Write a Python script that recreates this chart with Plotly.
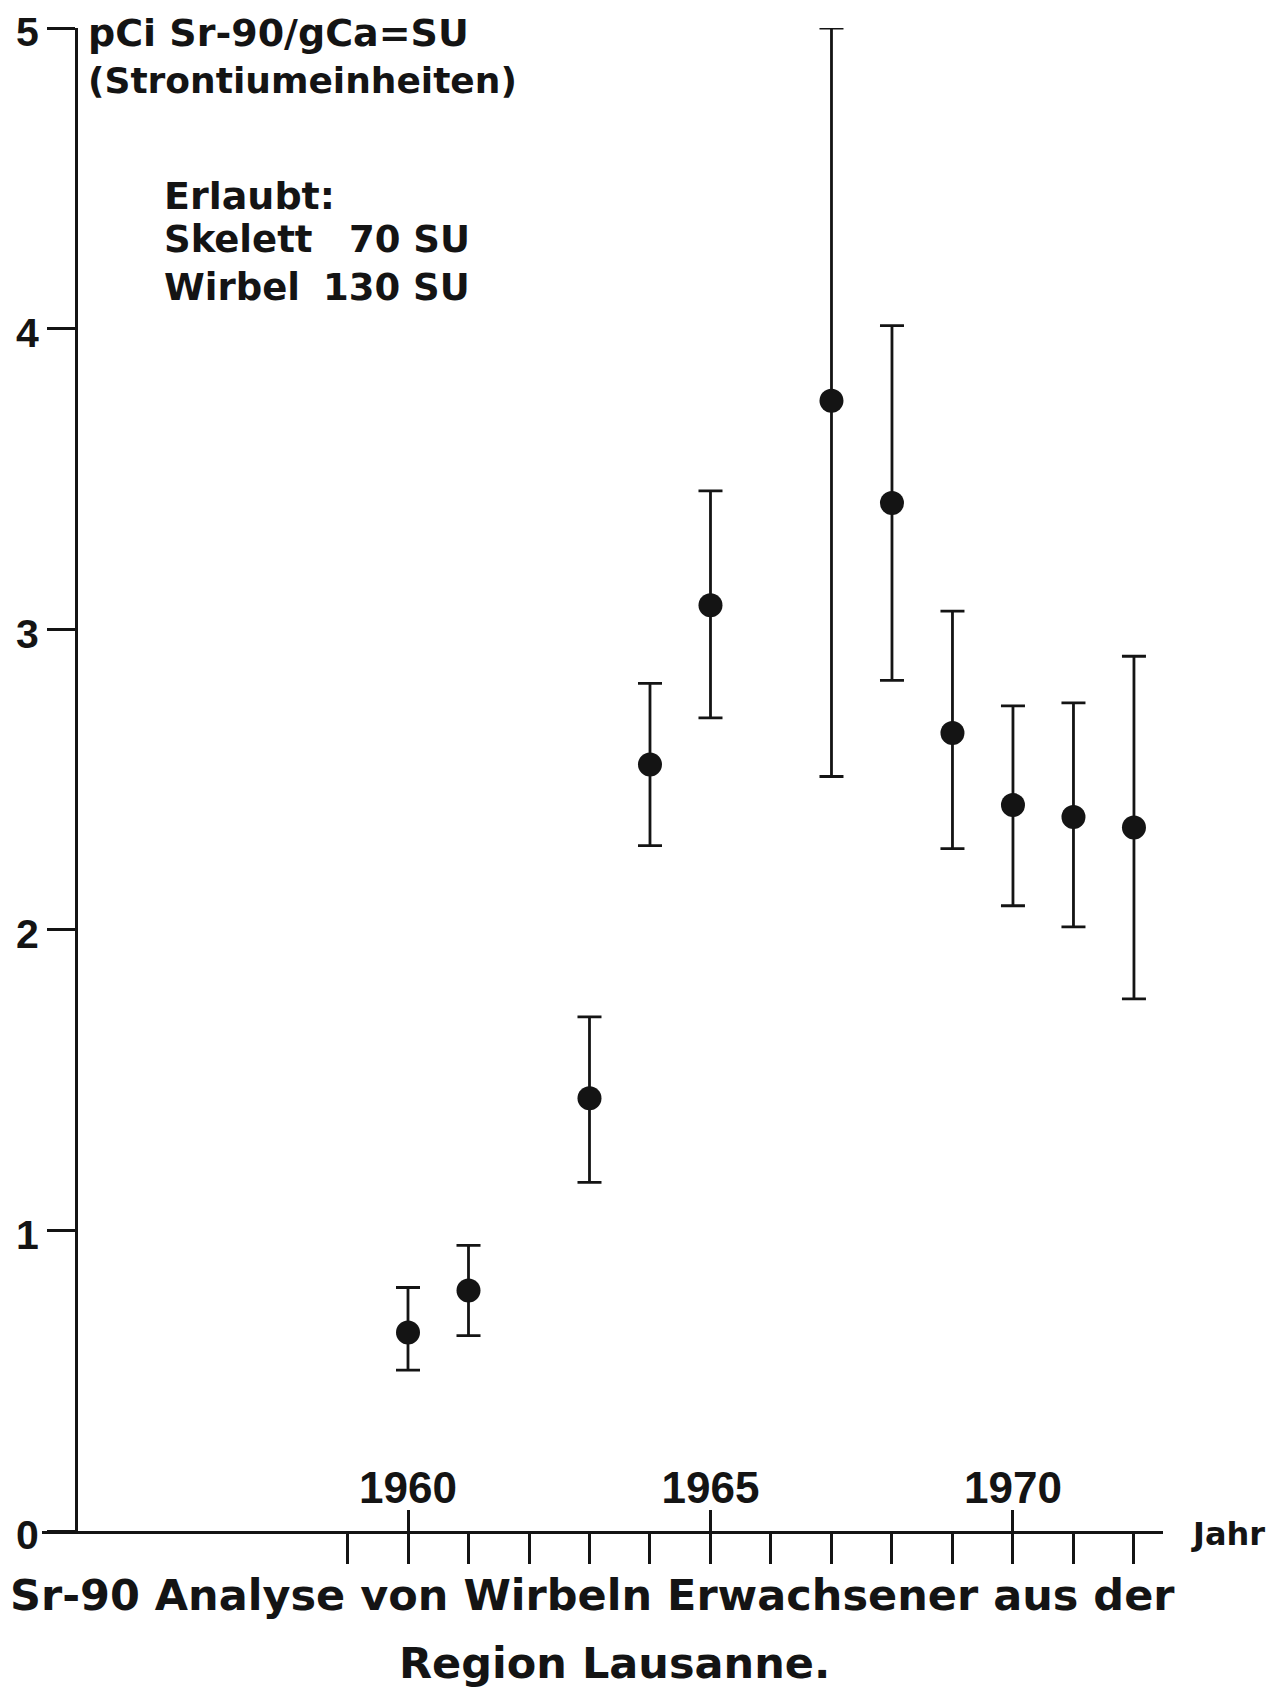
import plotly.graph_objects as go

# ---- data ----
years = [1960, 1961, 1963, 1964, 1965, 1967, 1968, 1969, 1970, 1971, 1972]
sr90_mean = [0.66, 0.80, 1.44, 2.55, 3.08, 3.76, 3.42, 2.655, 2.415, 2.375, 2.34]
sr90_upper = [0.81, 0.95, 1.71, 2.82, 3.46, 5.00, 4.01, 3.06, 2.745, 2.755, 2.91]
sr90_lower = [0.535, 0.65, 1.16, 2.28, 2.705, 2.51, 2.83, 2.27, 2.08, 2.01, 1.77]

x_minor_ticks = list(range(1959, 1973))
x_major_ticks = [1960, 1965, 1970]
x_major_labels = ["1960", "1965", "1970"]
y_ticks = [0, 1, 2, 3, 4, 5]
y_labels = ["0", "1", "2", "3", "4", "5"]

unit_line1 = "pCi Sr-90/gCa=SU"
unit_line2 = "(Strontiumeinheiten)"
allowed_head = "Erlaubt:"
allowed_rows = ["Skelett", "Wirbel"]
allowed_vals = ["70 SU", "130 SU"]
x_title = "Jahr"
title_line1 = "Sr-90 Analyse von Wirbeln Erwachsener aus der"
title_line2 = "Region Lausanne."

INK = "#141414"
XNUM_FONT = dict(family="Liberation Sans", size=44, color=INK, weight="bold")
YNUM_FONT = dict(family="Liberation Sans", size=41, color=INK, weight="bold")
TXT_FONT = dict(family="DejaVu Sans", size=37, color=INK, weight="bold")
TITLE_FONT = dict(family="DejaVu Sans", size=43, color=INK, weight="bold")

# the page body has an 8px margin: work in page pixels, convert to figure pixels
OFF = 8
W, H = 1280 - OFF, 1690 - OFF
PLOT_LEFT, PLOT_RIGHT, PLOT_TOP, PLOT_BOTTOM = 42, 1163, 28, 1531   # page pixels
L = PLOT_LEFT - OFF
T = PLOT_TOP - OFF
R = W - (PLOT_RIGHT - OFF)
B = H - (PLOT_BOTTOM - OFF)
plot_w = PLOT_RIGHT - PLOT_LEFT
plot_h = PLOT_BOTTOM - PLOT_TOP


def px(xpix):
    return (xpix - PLOT_LEFT) / plot_w


def py(ypix):
    return (PLOT_BOTTOM - ypix) / plot_h


err_plus = [u - m for u, m in zip(sr90_upper, sr90_mean)]
err_minus = [m - l for m, l in zip(sr90_mean, sr90_lower)]

X_RANGE = [1953.95, 1972.48]

fig = go.Figure()
fig.add_trace(go.Scatter(
    x=years, y=sr90_mean, mode="markers",
    marker=dict(size=24, color=INK),
    error_y=dict(type="data", symmetric=False, array=err_plus, arrayminus=err_minus,
                 thickness=2.8, width=12, color=INK),
    cliponaxis=False, showlegend=False, hoverinfo="x+y",
))
# invisible companion trace so that the overlay axis (upper major ticks) is drawn
fig.add_trace(go.Scatter(
    x=years, y=sr90_mean, mode="markers", xaxis="x2",
    marker=dict(size=1, opacity=0), showlegend=False, hoverinfo="skip",
))

fig.update_layout(
    width=W, height=H,
    margin=dict(l=L, r=R, t=T, b=B, pad=0, autoexpand=False),
    paper_bgcolor="white", plot_bgcolor="white",
    xaxis=dict(
        range=X_RANGE, showgrid=False, zeroline=False, automargin=False,
        showline=True, linecolor=INK, linewidth=3.2,
        tickmode="array", tickvals=x_minor_ticks, ticks="outside",
        ticklen=30, tickwidth=2.5, tickcolor=INK, showticklabels=False,
    ),
    xaxis2=dict(
        range=X_RANGE, overlaying="x", anchor="y", side="bottom",
        showgrid=False, zeroline=False, showline=False, automargin=False,
        tickmode="array", tickvals=x_major_ticks, ticktext=x_major_labels,
        ticks="inside", ticklen=21, tickwidth=2.5, tickcolor=INK,
        ticklabelposition="inside", ticklabelstandoff=4, tickfont=XNUM_FONT,
        ticklabeloverflow="allow",
    ),
    yaxis=dict(
        range=[0, 5], anchor="free", position=px(76), automargin=False,
        showgrid=False, zeroline=False,
        showline=True, linecolor=INK, linewidth=2.8,
        tickmode="array", tickvals=y_ticks, ticktext=y_labels,
        ticks="outside", ticklen=28, tickwidth=2.5, tickcolor=INK,
        tickfont=YNUM_FONT, ticklabeloverflow="allow", ticklabelshift=4,
    ),
)

ann = []
ann.append(dict(text=unit_line1, x=px(86), y=py(33), xanchor="left", yanchor="middle",
                font=dict(TXT_FONT, size=38)))
ann.append(dict(text=unit_line2, x=px(86), y=py(80), xanchor="left", yanchor="middle",
                font=dict(TXT_FONT, size=36)))
ann.append(dict(text=allowed_head, x=px(162), y=py(196), xanchor="left", yanchor="middle",
                font=dict(TXT_FONT, size=38)))
for i, (lab, val) in enumerate(zip(allowed_rows, allowed_vals)):
    yy = py(240 + 47 * i)
    ann.append(dict(text=lab, x=px(162), y=yy, xanchor="left", yanchor="middle", font=TXT_FONT))
    ann.append(dict(text=val, x=px(472), y=yy, xanchor="right", yanchor="middle", font=TXT_FONT))
ann.append(dict(text=x_title, x=px(1189), y=py(1534), xanchor="left", yanchor="middle",
                font=dict(family="DejaVu Sans", size=32, color=INK, weight="bold")))
ann.append(dict(text=title_line1, x=px(592), y=py(1595), xanchor="center", yanchor="middle",
                font=TITLE_FONT))
ann.append(dict(text=title_line2, x=px(614), y=py(1690), xanchor="center", yanchor="bottom",
                font=TITLE_FONT))
for a in ann:
    a.update(xref="paper", yref="paper", showarrow=False)
fig.update_layout(annotations=ann)

fig.write_html("out.html")
